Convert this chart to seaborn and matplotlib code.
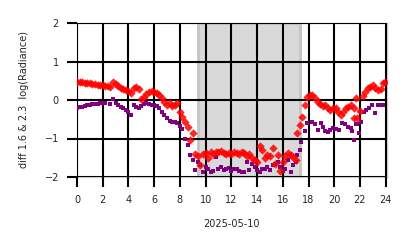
import matplotlib
matplotlib.use("Agg")
import matplotlib.pyplot as plt
import seaborn as sns
import pandas as pd

red_hours = [0.0, 0.2, 0.4, 0.6, 0.8, 1.0, 1.2, 1.4, 1.6, 1.8, 2.0, 2.2, 2.4, 2.6, 2.8, 3.0,
             3.2, 3.4, 3.6, 3.8, 4.0, 4.2, 4.4, 4.6, 4.8, 5.0, 5.2, 5.4, 5.6, 5.8, 6.0, 6.2,
             6.4, 6.6, 6.8, 7.0, 7.2, 7.4, 7.6, 7.8, 8.0, 8.2, 8.4, 8.6, 8.8, 9.0, 9.2, 9.4,
             9.6, 9.8, 10.0, 10.2, 10.4, 10.6, 10.8, 11.0, 11.2, 11.4, 11.6, 11.8, 12.0, 12.2,
             12.4, 12.6, 12.8, 13.0, 13.2, 13.4, 13.6, 13.8, 14.0, 14.2, 14.4, 14.6, 14.8, 15.0,
             15.2, 15.4, 15.6, 15.8, 16.0, 16.2, 16.4, 16.6, 16.8, 17.0, 17.1, 17.35, 17.5, 17.7,
             17.9, 18.1, 18.3, 18.5, 18.7, 18.9, 19.1, 19.3, 19.5, 19.7, 19.9, 20.1, 20.3, 20.5,
             20.7, 20.9, 21.1, 21.3, 21.5, 21.55, 21.7, 21.8, 22.0, 22.2, 22.4, 22.6, 22.8, 23.0,
             23.2, 23.4, 23.6, 23.8, 23.95]
red_values = [0.48, 0.48, 0.47, 0.45, 0.44, 0.43, 0.42, 0.42, 0.40, 0.39, 0.38, 0.36, 0.36, 0.34, 0.47, 0.42,
              0.37, 0.32, 0.28, 0.25, 0.23, 0.19, 0.30, 0.35, 0.28, 0.02, 0.08, 0.16, 0.21, 0.24, 0.22, 0.18,
              0.12, 0.04, -0.04, -0.12, -0.09, -0.16, -0.12, -0.08, -0.30, -0.44, -0.57, -0.70, -1.05, -0.85, -1.40, -1.45,
              -1.70, -1.40, -1.38, -1.50, -1.35, -1.40, -1.34, -1.36, -1.33, -1.38, -1.40, -1.37, -1.40, -1.35,
              -1.37, -1.40, -1.36, -1.38, -1.45, -1.40, -1.50, -1.55, -1.60, -1.20, -1.30, -1.50, -1.42, -1.45,
              -1.25, -1.65, -1.42, -1.85, -1.60, -1.45, -1.38, -1.42, -1.48, -1.55, -0.86, -0.65, -0.43, -0.13,
              0.09, 0.12, 0.13, 0.05, -0.05, -0.10, -0.15, -0.12, -0.20, -0.25, -0.22, -0.20, -0.30, -0.38,
              -0.30, -0.22, -0.18, -0.12, -0.22, -0.47, 0.06, -0.47, -0.28, 0.10, 0.22, 0.30, 0.35, 0.38,
              0.30, 0.26, 0.28, 0.44, 0.48]

purple_hours = [0.0, 0.2, 0.4, 0.6, 0.8, 1.0, 1.2, 1.4, 1.6, 1.8, 2.0, 2.2, 2.6, 2.8, 3.0, 3.2,
                3.4, 3.6, 3.8, 4.0, 4.2, 4.4, 4.6, 4.8, 5.0, 5.2, 5.4, 5.6, 5.8, 6.0, 6.2, 6.4,
                6.6, 6.8, 7.0, 7.2, 7.4, 7.6, 7.8, 8.0, 8.2, 8.4, 8.6, 8.8, 9.0, 9.2, 9.4, 9.6,
                9.8, 10.0, 10.2, 10.4, 10.6, 10.8, 11.0, 11.2, 11.4, 11.6, 11.8, 12.0, 12.2, 12.4,
                12.6, 12.8, 13.0, 13.2, 13.4, 13.6, 13.8, 14.0, 14.2, 14.4, 14.6, 14.8, 15.0, 15.2,
                15.4, 15.6, 15.8, 16.0, 16.2, 16.4, 16.6, 16.8, 17.0, 17.1, 17.3, 17.45, 17.7, 17.85,
                18.25, 18.5, 18.7, 18.95, 19.1, 19.3, 19.5, 19.7, 19.9, 20.1, 20.4, 20.6, 20.8, 21.05,
                21.3, 21.4, 21.55, 21.7, 21.8, 21.95, 22.1, 22.3, 22.5, 22.7, 22.95, 23.2, 23.4, 23.6,
                23.8]
purple_values = [-0.22, -0.18, -0.17, -0.15, -0.13, -0.12, -0.11, -0.10, -0.10, -0.09, -0.08, -0.09, -0.10, 0.03, -0.08, -0.13,
                 -0.17, -0.21, -0.25, -0.30, -0.39, -0.13, -0.17, -0.20, -0.16, -0.10, -0.08, -0.10, -0.12, -0.13, -0.15, -0.22,
                 -0.30, -0.38, -0.47, -0.55, -0.57, -0.58, -0.60, -0.68, -0.75, -1.00, -1.18, -1.44, -1.57, -1.83, -1.62, -1.70,
                 -1.87, -1.75, -1.80, -1.88, -1.85, -1.49, -1.80, -1.75, -1.82, -1.78, -1.76, -1.85, -1.78, -1.80,
                 -1.84, -1.86, -1.88, -1.60, -1.82, -1.65, -1.75, -1.82, -1.88, -1.78, -1.80, -1.75, -1.82, -1.70,
                 -1.65, -1.62, -1.75, -1.85, -1.78, -1.57, -1.88, -1.70, -1.60, -1.44, -1.30, -1.09, -0.81, -0.60,
                 -0.57, -0.62, -0.78, -0.60, -0.70, -0.80, -0.82, -0.78, -0.72, -0.76, -0.78, -0.60, -0.62, -0.69,
                 -0.72, -0.80, -1.05, -0.62, -0.62, -0.85, -0.57, -0.30, -0.25, -0.21, -0.13, -0.35, -0.14, -0.13,
                 -0.12]

night_start = 9.4
night_end = 17.3
x_ticks = [0, 2, 4, 6, 8, 10, 12, 14, 16, 18, 20, 22, 24]
y_ticks = [-2, -1, 0, 1, 2]
x_label = "2025-05-10"
y_label = "diff 1.6 & 2.3  log(Radiance)"

red_df = pd.DataFrame({"hour": red_hours, "value": red_values})
purple_df = pd.DataFrame({"hour": purple_hours, "value": purple_values})

sns.set_theme(style="white")
plt.rcParams["font.family"] = ["DejaVu Sans"]

fig = plt.figure(figsize=(4.14, 2.48), dpi=100)
ax = fig.add_axes([77 / 414, 1 - 177 / 248, 310 / 414, 154 / 248])

ax.axvspan(night_start, night_end, facecolor="#d9d9d9", edgecolor="#c4c4c4", lw=2, zorder=0)

sns.scatterplot(data=purple_df, x="hour", y="value", ax=ax, marker="s", color="#800080",
                s=10, linewidth=0, zorder=3)
sns.scatterplot(data=red_df, x="hour", y="value", ax=ax, marker="D", color="#ff0000",
                s=18, linewidth=0, alpha=0.85, zorder=4)

ax.set_xlim(0, 24.1)
ax.set_ylim(-2, 2)
ax.set_xticks(x_ticks)
ax.set_yticks(y_ticks)
ax.grid(True, color="black", lw=1.5, zorder=2)
ax.set_axisbelow(False)
for sp in ax.spines.values():
    sp.set_color("#cccccc")
    sp.set_linewidth(1.0)
ax.tick_params(axis="both", length=7, width=1.5, color="black", labelsize=7,
               labelcolor="#262626", pad=6, direction="out", bottom=True, left=True)
ax.set_xlabel(x_label, fontsize=7, color="#262626", labelpad=10)
ax.set_ylabel(y_label, fontsize=7, color="#262626", labelpad=11)

fig.savefig("out.png", dpi=100)
